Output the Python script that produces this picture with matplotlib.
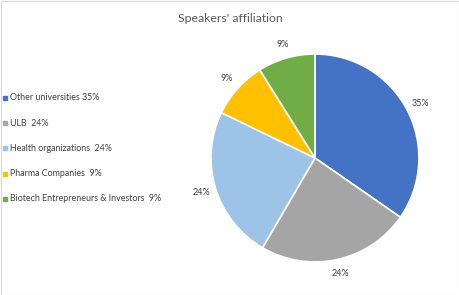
import matplotlib
matplotlib.use('Agg')
import matplotlib.pyplot as plt
from matplotlib.patches import Rectangle

plt.rcParams['font.family'] = ['Lato', 'DejaVu Sans']

categories = ['Other universities', 'ULB', 'Health organizations', 'Pharma Companies',
              'Biotech Entrepreneurs & Investors']
shares = [35, 24, 24, 9, 9]
pct_labels = ['35%', '24%', '24%', '9%', '9%']
legend_labels = ['Other universities 35%', 'ULB  24%', 'Health organizations  24%',
                 'Pharma Companies  9%', 'Biotech Entrepreneurs & Investors  9%']
colors = ['#4472C4', '#A5A5A5', '#9DC3E6', '#FFC000', '#70AD47']

fig = plt.figure(figsize=(4.6, 2.95), dpi=100)

ax = fig.add_axes([0.4587, 0.112, 0.452, 0.705])
wedges, texts = ax.pie(shares, colors=colors, startangle=90, counterclock=False,
                       labels=pct_labels, labeldistance=1.14,
                       wedgeprops=dict(edgecolor='white', linewidth=1.2))
for t in texts:
    t.set_ha('center')
    t.set_va('center')
    t.set_fontsize(6.5)
    t.set_color('#404040')
ax.set_xlim(-1, 1)
ax.set_ylim(-1, 1)
ax.set_aspect('equal')

fig.text(0.5, 0.938, "Speakers' affiliation", ha='center', va='center',
         fontsize=8.8, color='#595959')

# legend on the left
for i, (lab, c) in enumerate(zip(legend_labels, colors)):
    y = 1 - (98 + i * 25.2) / 295
    fig.patches.append(Rectangle((3 / 460, y - 2 / 295), 4 / 460, 4 / 295,
                                 transform=fig.transFigure, color=c, figure=fig))
    fig.text(10 / 460, y, lab, ha='left', va='center', fontsize=6.4, color='#404040')

fig.patches.append(Rectangle((0.5 / 460, 0.5 / 295), 459 / 460, 294 / 295,
                             transform=fig.transFigure, fill=False,
                             edgecolor='#D9D9D9', linewidth=0.8, figure=fig))

fig.savefig('out.png', dpi=100)
